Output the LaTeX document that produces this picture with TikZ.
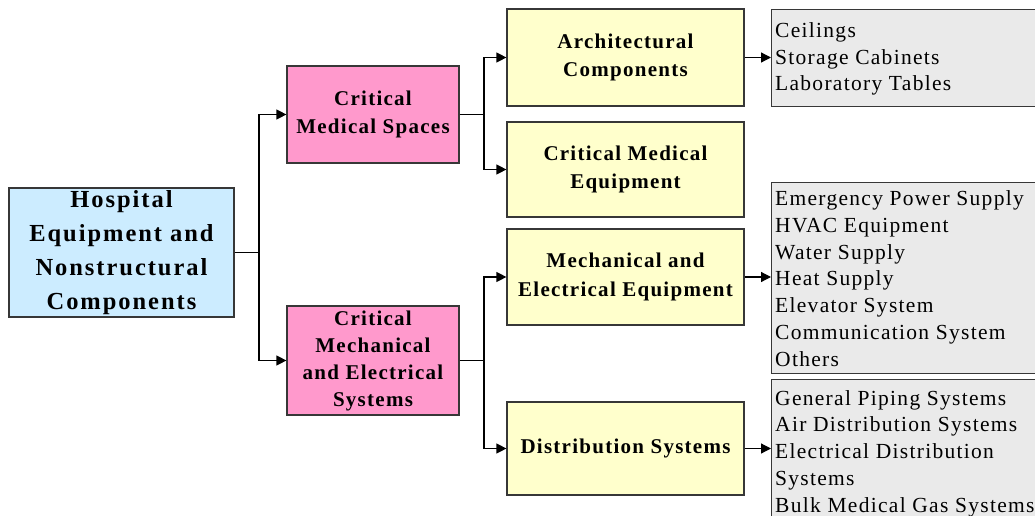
\documentclass[tikz,border=0pt]{standalone}
\usepackage{fontspec}
\setmainfont{Liberation Serif}
\newfontfamily\labfont{Liberation Serif}[LetterSpace=6]
\newfontfamily\rootfont{Liberation Serif}[LetterSpace=8]
\usetikzlibrary{arrows.meta}

\definecolor{skyfill}{RGB}{204,236,255}
\definecolor{pinkfill}{RGB}{255,153,204}
\definecolor{creamfill}{RGB}{255,255,204}
\definecolor{greyfill}{RGB}{234,234,234}
\definecolor{boxline}{RGB}{55,55,55}

\begin{document}
\begin{tikzpicture}[x=1pt,y=-1pt,
  box/.style={draw=boxline, line width=1.2pt, inner sep=0pt, align=center},
  rootbox/.style={box, fill=skyfill, minimum width=225pt, minimum height=129pt,
    font=\rootfont\bfseries\fontsize{24.5}{34}\selectfont},
  groupbox/.style={box, fill=pinkfill, minimum width=172pt,
    font=\labfont\bfseries\fontsize{21}{28.5}\selectfont},
  itembox/.style={box, fill=creamfill, minimum width=237pt,
    font=\labfont\bfseries\fontsize{21}{28.5}\selectfont},
  listbox/.style={draw=boxline, line width=1.2pt, fill=greyfill, inner sep=0pt,
    anchor=north west, minimum width=290pt},
  listtext/.style={anchor=west, align=left, inner sep=0pt,
    font=\labfont\fontsize{21.5}{26.8}\selectfont},
  link/.style={line width=1.2pt, draw=black},
  arr/.style={link, -{Triangle[length=10pt,width=10pt]}}
]
\useasboundingbox (0,0) rectangle (1035,516);
\clip (0,0) rectangle (1035,516);

% root
\node[rootbox] (root) at (121.5,252.5)
  {Hospital\\Equipment and\\Nonstructural\\Components};

% second level
\node[groupbox, minimum height=97pt] (spaces) at (373,114.5)
  {Critical\\Medical Spaces};
\node[groupbox, minimum height=109pt,
  font=\labfont\bfseries\fontsize{21}{27}\selectfont] (mep) at (373,360.5)
  {Critical\\Mechanical\\and Electrical\\Systems};

% third level
\node[itembox, minimum height=97pt] (arch) at (625.5,57.5)
  {Architectural\\Components};
\node[itembox, minimum height=95pt] (medeq) at (625.5,169.5)
  {Critical Medical\\Equipment};
\node[itembox, minimum height=96pt] (mecheq) at (625.5,277)
  {Mechanical and\\Electrical Equipment};
\node[itembox, minimum height=93pt] (distr) at (625.5,448.5)
  {Distribution Systems};

% lists
\node[listbox, minimum height=97pt] (l1) at (771,9) {};
\node[listbox, minimum height=191pt] (l2) at (771,182) {};
\node[listbox, minimum height=160pt] (l3) at (771,379) {};

\node[listtext] (t1) at (775,59)
  {Ceilings\\Storage Cabinets\\Laboratory Tables};
\node[listtext] (t2) at (775,278.5)
  {Emergency Power Supply\\HVAC Equipment\\Water Supply\\Heat Supply\\Elevator System\\Communication System\\Others};
\node[listtext] (t3) at (775,453.5)
  {General Piping Systems\\Air Distribution Systems\\Electrical Distribution\\Systems\\Bulk Medical Gas Systems};

% connectors
\coordinate (j0) at (259,252.5);
\coordinate (j1) at (484,114.5);
\coordinate (j2) at (484,360.5);

\draw[link] (root.east) -- (j0);
\draw[arr] (j0) |- (spaces.west);
\draw[arr] (j0) |- (mep.west);

\draw[link] (spaces.east) -- (j1);
\draw[arr] (j1) |- (arch.west);
\draw[arr] (j1) |- (medeq.west);

\draw[link] (mep.east) -- (j2);
\draw[arr] (j2) |- (mecheq.west);
\draw[arr] (j2) |- (distr.west);

\draw[arr] (arch.east) -- (arch.east -| l1.west);
\draw[arr] (mecheq.east) -- (mecheq.east -| l2.west);
\draw[arr] (distr.east) -- (distr.east -| l3.west);
\end{tikzpicture}
\end{document}
